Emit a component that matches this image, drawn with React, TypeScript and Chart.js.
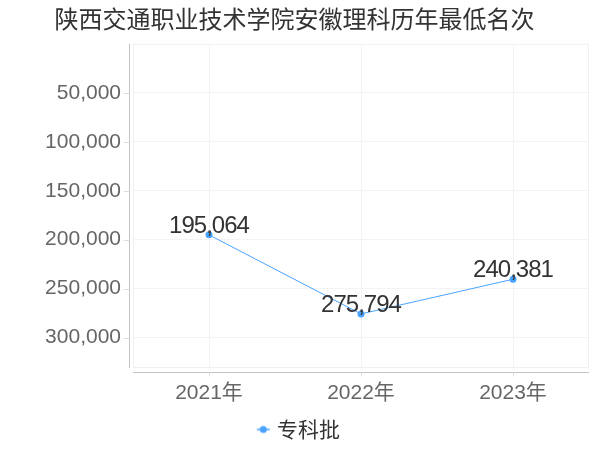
import React, { useEffect, useRef } from 'react';
import { Chart, registerables } from 'chart.js';

Chart.register(...registerables);

const chartTitle = '陕西交通职业技术学院安徽理科历年最低名次';
const categories = ['2021年', '2022年', '2023年'];
const seriesName = '专科批';
const values = [195064, 275794, 240381];
const yTicks = [50000, 100000, 150000, 200000, 250000, 300000];
const yMin = 0;
const yMax = 331000;

const LINE_COLOR = '#4aa3ff';
const LATIN = '"Liberation Sans", "Noto Sans CJK SC", sans-serif';
const CJK = '"Noto Sans CJK SC", "Liberation Sans", sans-serif';

const fmt = (v: number) => v.toLocaleString('en-US');

function legendMarker(): HTMLCanvasElement {
  const c = document.createElement('canvas');
  c.width = 26;
  c.height = 10;
  const ctx = c.getContext('2d')!;
  ctx.strokeStyle = LINE_COLOR;
  ctx.lineWidth = 1.5;
  ctx.beginPath();
  ctx.moveTo(12, 5);
  ctx.lineTo(25, 5);
  ctx.stroke();
  ctx.fillStyle = LINE_COLOR;
  ctx.beginPath();
  ctx.arc(18.5, 5, 3.5, 0, Math.PI * 2);
  ctx.fill();
  return c;
}

const framePlugin = {
  id: 'frame',
  beforeDatasetsDraw(chart: any) {
    const { ctx, chartArea } = chart;
    const { left, right, top, bottom } = chartArea;
    ctx.save();
    ctx.strokeStyle = '#f0f0f0';
    ctx.lineWidth = 1;
    ctx.strokeRect(left + 0.5, top + 0.5, right - left - 1, bottom - top - 1);
    ctx.strokeStyle = '#c4c4c4';
    const ax = Math.round(left - 4) + 0.5;
    ctx.beginPath();
    ctx.moveTo(ax, top);
    ctx.lineTo(ax, bottom);
    const ay = Math.round(bottom + 4) + 0.5;
    ctx.moveTo(left, ay);
    ctx.lineTo(right, ay);
    ctx.stroke();
    ctx.strokeStyle = '#dddddd';
    ctx.beginPath();
    const ys = chart.scales.y;
    ys.ticks.forEach((t: any) => {
      const py = Math.round(ys.getPixelForValue(t.value)) + 0.5;
      ctx.moveTo(ax - 6, py);
      ctx.lineTo(ax, py);
    });
    const xs = chart.scales.x;
    categories.forEach((_, i) => {
      const px = Math.round(xs.getPixelForValue(i)) + 0.5;
      ctx.moveTo(px, ay);
      ctx.lineTo(px, ay + 4);
    });
    ctx.stroke();
    ctx.restore();
  },
};

const labelPlugin = {
  id: 'valueLabels',
  afterDatasetsDraw(chart: any) {
    const ctx: any = chart.ctx;
    const meta = chart.getDatasetMeta(0);
    ctx.save();
    ctx.font = `24px ${LATIN}`;
    ctx.letterSpacing = '-1px';
    ctx.fillStyle = '#333333';
    ctx.textAlign = 'center';
    ctx.textBaseline = 'alphabetic';
    meta.data.forEach((pt: any, i: number) => {
      ctx.fillText(fmt(values[i]), pt.x, pt.y - 2);
    });
    ctx.restore();
  },
};

export default function App() {
  const ref = useRef<HTMLCanvasElement | null>(null);

  useEffect(() => {
    if (!ref.current) return;
    const chart = new Chart(ref.current, {
      type: 'line',
      data: {
        labels: categories,
        datasets: [
          {
            label: seriesName,
            data: values,
            borderColor: LINE_COLOR,
            backgroundColor: LINE_COLOR,
            borderWidth: 1,
            pointRadius: 3.5,
            pointBorderWidth: 0,
            pointBackgroundColor: LINE_COLOR,
            tension: 0,
          },
        ],
      },
      options: {
        responsive: false,
        animation: false,
        layout: { padding: { left: 0, right: 11, top: 0, bottom: 0 } },
        plugins: {
          title: {
            display: true,
            text: chartTitle,
            color: '#333333',
            font: { family: CJK, size: 24, weight: 'normal' },
            padding: { top: 4, bottom: 11 },
          },
          legend: {
            display: true,
            position: 'bottom',
            labels: {
              usePointStyle: true,
              pointStyle: legendMarker(),
              boxWidth: 17.5,
              padding: 8,
              color: '#333333',
              font: { family: CJK, size: 21 },
            },
          },
          tooltip: { enabled: false },
        },
        scales: {
          x: {
            type: 'category',
            offset: true,
            grid: { color: '#f3f3f3', drawTicks: false },
            border: { display: false },
            ticks: {
              color: '#666666',
              font: { family: LATIN, size: 21 },
              padding: 13,
            },
            afterFit(scale: any) {
              scale.height = 43;
            },
          },
          y: {
            type: 'linear',
            reverse: true,
            min: yMin,
            max: yMax,
            grid: { color: '#f3f3f3', drawTicks: false },
            border: { display: false },
            afterBuildTicks(scale: any) {
              scale.ticks = yTicks.map((v) => ({ value: v }));
            },
            ticks: {
              color: '#666666',
              font: { family: LATIN, size: 21 },
              padding: 12,
              callback: (v: any) => fmt(Number(v)),
            },
            afterFit(scale: any) {
              scale.width = 133;
            },
          },
        },
      },
      plugins: [framePlugin, labelPlugin],
    });
    return () => chart.destroy();
  }, []);

  return (
    <div style={{ position: 'absolute', left: 0, top: 0, width: 600, height: 450 }}>
      <canvas ref={ref} width={600} height={450} />
    </div>
  );
}
